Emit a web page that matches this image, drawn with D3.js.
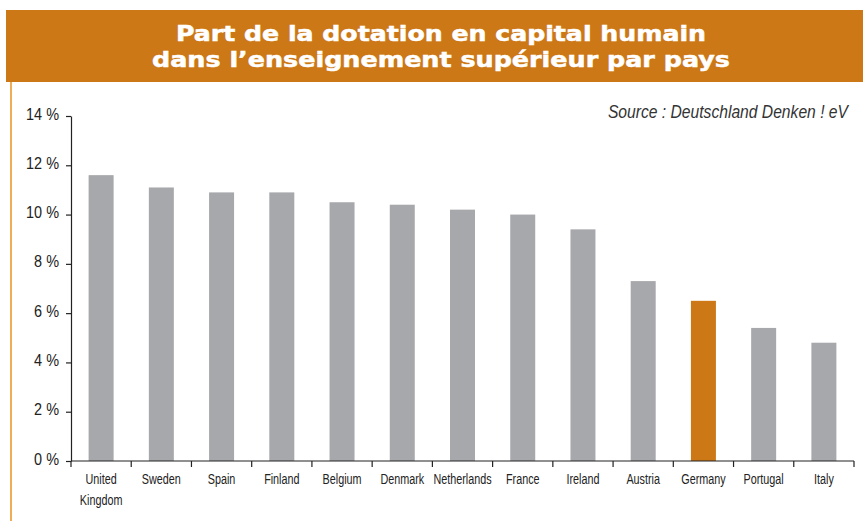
<!DOCTYPE html>
<html>
<head>
<meta charset="utf-8">
<script src="https://cdn.jsdelivr.net/npm/d3@7"></script>
<style>
  html, body { margin: 0; padding: 0; background: #fff; }
  svg { display: block; }
</style>
</head>
<body>
<svg id="chart" width="863" height="521"></svg>
<script>
const countries = ["United Kingdom", "Sweden", "Spain", "Finland", "Belgium", "Denmark",
  "Netherlands", "France", "Ireland", "Austria", "Germany", "Portugal", "Italy"];
const shares = [11.6, 11.1, 10.9, 10.9, 10.5, 10.4, 10.2, 10.0, 9.4, 7.3, 6.5, 5.4, 4.8];
const highlight = ["Germany"];
const yTicks = [0, 2, 4, 6, 8, 10, 12, 14];
const titleLines = ["Part de la dotation en capital humain", "dans l\u2019enseignement supérieur par pays"];
const sourceText = "Source : Deutschland Denken ! eV";

const orange = "#cc7817";
const gray = "#a7a8ab";
const font = "'Liberation Sans', Arial, sans-serif";

const svg = d3.select("#chart");

// header band + left rule
svg.append("rect").attr("x", 6).attr("y", 10).attr("width", 857).attr("height", 72).attr("fill", orange);
svg.append("line").attr("x1", 11).attr("x2", 11).attr("y1", 82).attr("y2", 521)
  .attr("stroke", "#e8921e").attr("stroke-width", 1.5);

const titleWidths = [530, 578];
svg.append("g").selectAll("text")
  .data(titleLines)
  .enter()
  .append("text")
  .attr("x", 441)
  .attr("y", (d, i) => 41 + i * 26)
  .attr("text-anchor", "middle")
  .attr("fill", "#fff")
  .attr("stroke", "#fff")
  .attr("stroke-width", 0.5)
  .attr("font-family", "'DejaVu Sans', sans-serif")
  .attr("font-weight", "bold")
  .attr("font-size", 21)
  .attr("textLength", (d, i) => titleWidths[i])
  .attr("lengthAdjust", "spacingAndGlyphs")
  .text((d) => d);

// condensed italic source note
svg.append("text")
  .attr("transform", "translate(848,118) scale(0.87,1)")
  .attr("text-anchor", "end")
  .attr("fill", "#333")
  .attr("font-family", font)
  .attr("font-style", "italic")
  .attr("font-size", 18)
  .text(sourceText);

const margin = { left: 71, right: 9, top: 116, bottom: 60 };
const innerW = 863 - margin.left - margin.right;
const innerH = 521 - margin.top - margin.bottom;
const pad = 0.585;

const x = d3.scaleBand().domain(countries).range([0, innerW]).paddingInner(pad).paddingOuter(pad / 2);
const y = d3.scaleLinear().domain([0, 14]).range([innerH, 0]);

const g = svg.append("g").attr("transform", `translate(${margin.left},${margin.top})`);

g.selectAll("rect.bar")
  .data(countries)
  .enter()
  .append("rect")
  .attr("class", "bar")
  .attr("x", (d) => x(d))
  .attr("y", (d, i) => y(shares[i]))
  .attr("width", x.bandwidth())
  .attr("height", (d, i) => innerH - y(shares[i]))
  .attr("fill", (d) => (highlight.includes(d) ? orange : gray));

const yAxis = g.append("g")
  .call(d3.axisLeft(y).tickValues(yTicks).tickFormat((d) => d + " %").tickSize(5).tickPadding(0).tickSizeOuter(0));
yAxis.selectAll("text")
  .attr("x", null)
  .attr("dy", null)
  .attr("transform", "translate(-12,3) scale(0.85,1)")
  .attr("fill", "#222")
  .attr("font-family", font)
  .attr("font-size", 17);
yAxis.selectAll(".domain,.tick line").attr("stroke", "#222").attr("stroke-width", 1.2);

// x axis: line plus boundary ticks between categories
const xAxis = g.append("g").attr("transform", `translate(0,${innerH})`);
xAxis.append("line").attr("x1", 0).attr("x2", innerW).attr("stroke", "#222").attr("stroke-width", 1.2);
const bounds = countries.map((c) => x(c) - (x.step() * pad) / 2).concat([innerW]);
xAxis.selectAll("line.tk")
  .data(bounds)
  .enter()
  .append("line")
  .attr("class", "tk")
  .attr("x1", (d) => d).attr("x2", (d) => d)
  .attr("y1", 0).attr("y2", 6)
  .attr("stroke", "#222").attr("stroke-width", 1.2);

const lab = xAxis.selectAll("text")
  .data(countries)
  .enter()
  .append("text")
  .attr("transform", (d) => `translate(${x(d) + x.bandwidth() / 2},23) scale(0.72,1)`)
  .attr("text-anchor", "middle")
  .attr("fill", "#222")
  .attr("font-family", font)
  .attr("font-size", 15);
lab.each(function (d) {
  const words = d === "United Kingdom" ? ["United", "Kingdom"] : [d];
  words.forEach((w, i) => {
    d3.select(this).append("tspan")
      .attr("x", 0)
      .attr("dy", i === 0 ? 0 : 21)
      .text(w);
  });
});
</script>
</body>
</html>
